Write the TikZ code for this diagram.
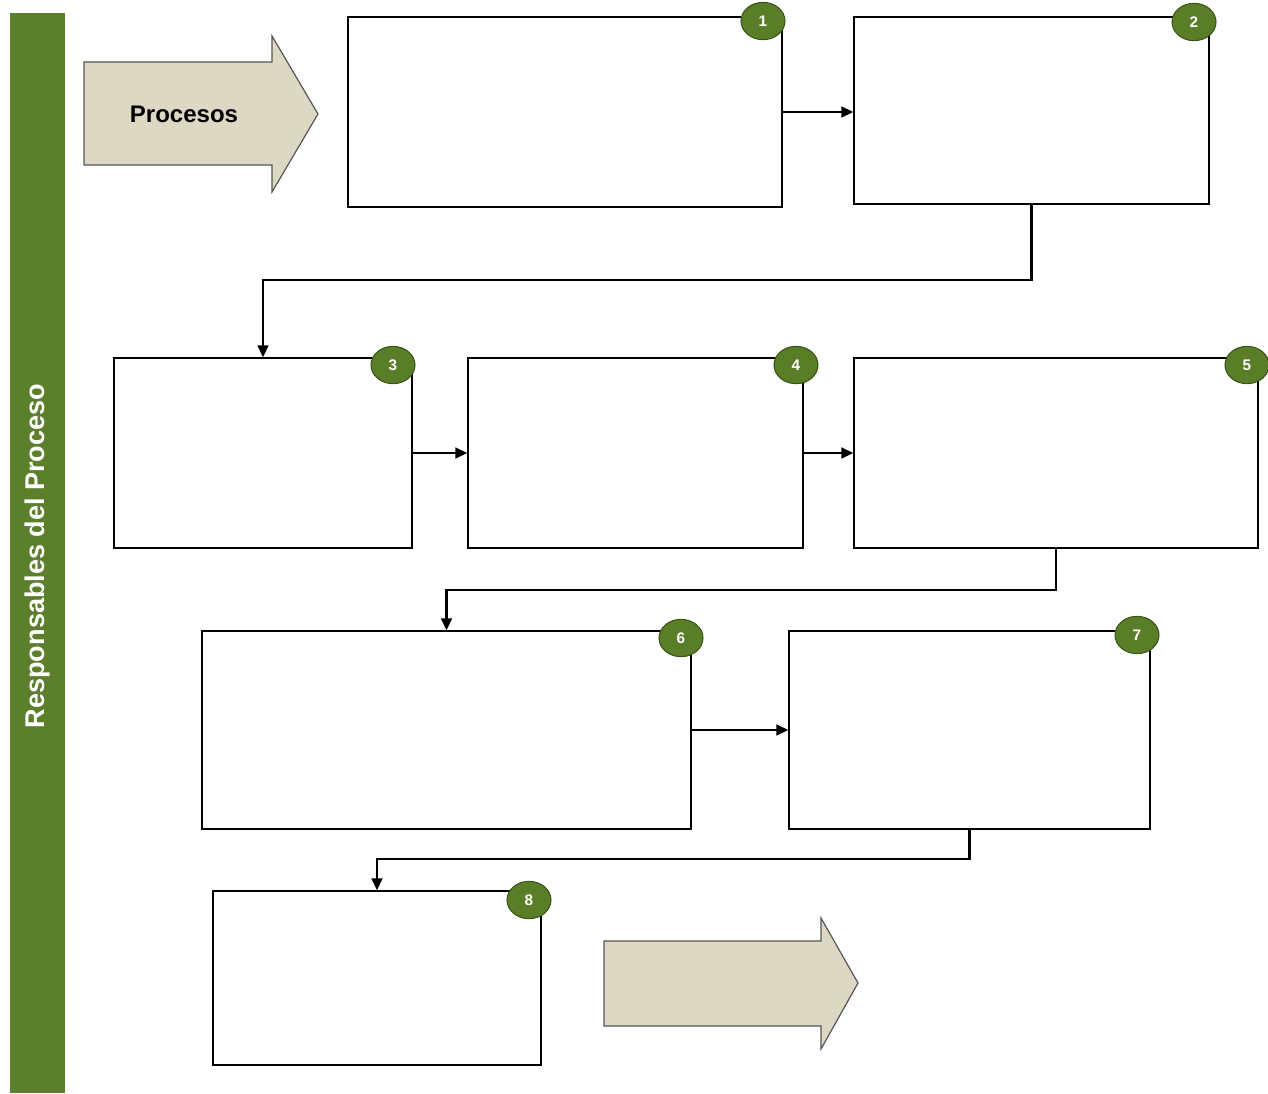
\documentclass[tikz,border=0pt]{standalone}
\usepackage{fontspec}
\setsansfont{Liberation Sans}
\usetikzlibrary{fit,shapes.geometric,arrows.meta}
\definecolor{barGreen}{HTML}{5B7F2A}
\definecolor{badgeGreen}{HTML}{5A7E28}
\definecolor{badgeEdge}{HTML}{3B5619}
\definecolor{arrowFill}{HTML}{DDD8C4}
\definecolor{arrowEdge}{HTML}{555555}
\tikzset{
  stepbox/.style={draw=black, line width=0.9pt, fill=white, inner sep=0pt},
  badge/.style={ellipse, fill=badgeGreen, draw=badgeEdge, line width=0.8pt,
    minimum width=33pt, minimum height=28pt, inner sep=0pt,
    text=white, font=\sffamily\bfseries\fontsize{11.5}{12}\selectfont},
  flow/.style={draw=black, line width=1.8pt, -{Triangle[length=9pt,width=8pt]}},
  bigarrow/.style={fill=arrowFill, draw=arrowEdge, line width=0.9pt, line join=miter},
}
\begin{document}
\begin{tikzpicture}[x=0.75pt, y=-0.75pt]
\useasboundingbox (0,0) rectangle (1268,1093);

% side bar with the role title
\fill[barGreen] (10,13) rectangle (65,1093);
\node[rotate=90, text=white, font=\sffamily\bfseries\fontsize{20.3}{21}\selectfont] (roles) at (38,556) {Responsables del Proceso};

% input arrow
\draw[bigarrow] (84,62) -- (272,62) -- (272,36) -- (318,114) -- (272,192) -- (272,165) -- (84,165) -- cycle;
\node[font=\sffamily\bfseries\fontsize{18}{18}\selectfont] (proc) at (184,114) {Procesos};

% output arrow
\draw[bigarrow] (604,941) -- (821,941) -- (821,918) -- (858,983) -- (821,1049) -- (821,1026) -- (604,1026) -- cycle;

% process boxes
\node[stepbox, fit={(348,17) (782,207)}] (b1) {};
\node[stepbox, fit={(854,17) (1209,204)}] (b2) {};
\node[stepbox, fit={(114,358) (412,548)}] (b3) {};
\node[stepbox, fit={(468,358) (803,548)}] (b4) {};
\node[stepbox, fit={(854,358) (1258,548)}] (b5) {};
\node[stepbox, fit={(202,631) (691,829)}] (b6) {};
\node[stepbox, fit={(789,631) (1150,829)}] (b7) {};
\node[stepbox, fit={(213,891) (541,1065)}] (b8) {};

% connectors
\draw[flow] (b1.east) -- (b1.east -| b2.west);
\draw[flow] (b2.south) -- (b2.south |- 0,280) -| (b3.north);
\draw[flow] (b3.east) -- (b3.east -| b4.west);
\draw[flow] (b4.east) -- (b4.east -| b5.west);
\draw[flow] (b5.south) -- (b5.south |- 0,590) -| (b6.north);
\draw[flow] (b6.east) -- (b6.east -| b7.west);
\draw[flow] (b7.south) -- (b7.south |- 0,859) -| (b8.north);

% numbered badges
\node[badge] (n1) at (763,21) {1};
\node[badge] (n2) at (1194,22) {2};
\node[badge] (n3) at (393,365) {3};
\node[badge] (n4) at (796,365) {4};
\node[badge] (n5) at (1247,365) {5};
\node[badge] (n6) at (681,638) {6};
\node[badge] (n7) at (1137,635) {7};
\node[badge] (n8) at (529,900) {8};
\end{tikzpicture}
\end{document}
